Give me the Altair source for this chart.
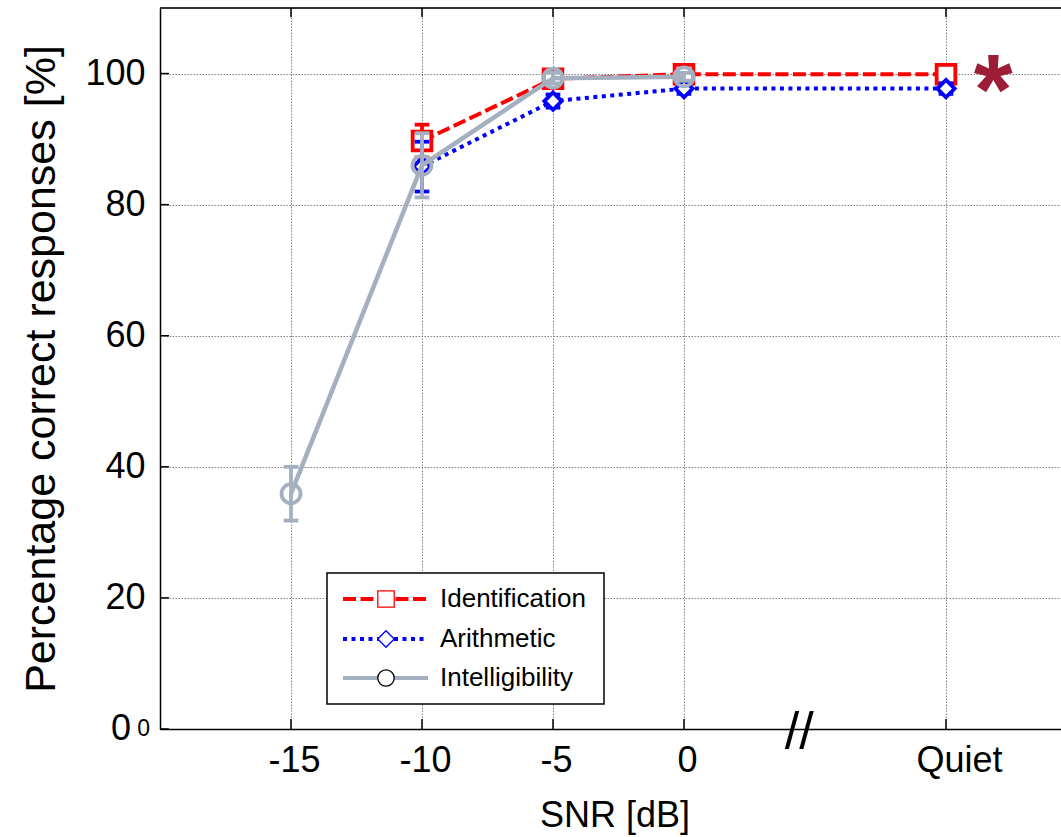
import altair as alt
import pandas as pd

# SNR positions in dB; the "Quiet" condition sits at 10 on the axis
snr_ticks = [-15, -10, -5, 0, 10]
pct_ticks = [0, 20, 40, 60, 80, 100]
quiet_at = 10

# Identification task
ident_snr = [-10, -5, 0, 10]
ident_pct = [89.7, 99.2, 99.9, 99.9]
ident_sd = [2.5, 0.6, 0.3, 0.3]

# Arithmetic task
arith_snr = [-10, -5, 0, 10]
arith_pct = [85.8, 95.8, 97.7, 97.7]
arith_sd = [3.8, 1.0, 0.8, 0.8]

# Intelligibility
intel_snr = [-15, -10, -5, 0]
intel_pct = [35.9, 86.0, 99.3, 99.5]
intel_sd = [4.1, 4.9, 0.8, 0.6]

# significance marker next to the Quiet condition
star_snr = [11.8]
star_pct = [92.3]

# axis-break position
break_snr = [4.4]

W, H = 901, 721
FONT = "Liberation Sans"
RED, BLUE, GRAY = "#ff0000", "#0000ff", "#a4b0c0"

xs = alt.Scale(domain=[-20, 14.39], nice=False, zero=False)
ys = alt.Scale(domain=[0, 110], nice=False, zero=False)

x_axis = alt.Axis(
    values=snr_ticks, grid=True, ticks=False, domain=True,
    labelExpr=f"datum.value == {quiet_at} ? 'Quiet' : '' + datum.value",
    labelOffset={"condition": {"test": f"datum.value == {quiet_at}", "value": 13}, "value": 3},
    labelFontSize=36, labelPadding=14, labelColor="black", labelFont=FONT,
    title="SNR [dB]", titleFontSize=36, titleFontWeight="normal",
    titleColor="black", titleFont=FONT, titlePadding=20, titleX=W / 2 + 4,
)
y_axis = alt.Axis(
    values=pct_ticks, grid=True, ticks=False, domain=True,
    labelExpr="datum.value == 0 ? '' : '' + datum.value",
    labelFontSize=36, labelPadding=15, labelColor="black", labelFont=FONT,
    title="Percentage correct responses [%]", titleFontSize=43,
    titleFontWeight="normal", titleColor="black", titleFont=FONT, titlePadding=21,
)


def X(field):
    return alt.X(field, type="quantitative", scale=xs, axis=x_axis)


def Y(field):
    return alt.Y(field, type="quantitative", scale=ys, axis=y_axis)


def series(snr, pct, sd, color, dash, shape, size, fill, lw):
    df = pd.DataFrame({"snr": snr, "pct": pct, "sd": sd})
    base = alt.Chart(df).transform_calculate(
        lo="datum.pct - datum.sd", hi="datum.pct + datum.sd",
        xl="datum.snr - 0.28", xr="datum.snr + 0.28",
    )
    line_kw = dict(color=color, strokeWidth=lw, strokeCap="butt")
    if dash:
        line_kw["strokeDash"] = dash
    line = base.mark_line(**line_kw).encode(x=X("snr"), y=Y("pct"))
    bar = base.mark_rule(color=color, strokeWidth=3.8).encode(
        x=X("snr"), y=Y("lo"), y2="hi")
    cap_lo = base.mark_rule(color=color, strokeWidth=3.8).encode(
        x=X("xl"), x2="xr", y=Y("lo"))
    cap_hi = base.mark_rule(color=color, strokeWidth=3.8).encode(
        x=X("xl"), x2="xr", y=Y("hi"))
    if fill:
        pts = base.mark_point(shape=shape, size=size, filled=True, fill="white",
                              fillOpacity=1, stroke=color, strokeWidth=3.8, opacity=1)
    else:
        pts = base.mark_point(shape=shape, size=size, filled=False,
                              stroke=color, strokeWidth=3.8, opacity=1)
    pts = pts.encode(x=X("snr"), y=Y("pct"))
    return [line, bar, cap_lo, cap_hi, pts]


one = pd.DataFrame({"k": [0]})

# top frame line
frame_top = alt.Chart(one).mark_rule(color="#333333", strokeWidth=2).encode(
    x=alt.value(0), x2=alt.value(W), y=alt.value(0))

# inward tick marks on bottom, top and left edges
xt = pd.DataFrame({"snr": snr_ticks})
yt = pd.DataFrame({"pct": pct_ticks})
ticks_bottom = alt.Chart(xt).mark_rule(color="black", strokeWidth=1.5).encode(
    x=X("snr"), y=alt.value(H), y2=alt.value(H - 10))
ticks_top = alt.Chart(xt).mark_rule(color="black", strokeWidth=1.5).encode(
    x=X("snr"), y=alt.value(0), y2=alt.value(9))
ticks_left = alt.Chart(yt).mark_rule(color="black", strokeWidth=1.5).encode(
    y=Y("pct"), x=alt.value(0), x2=alt.value(9))

layers = [frame_top, ticks_bottom, ticks_top, ticks_left]
layers += series(ident_snr, ident_pct, ident_sd, RED, [13, 4.5], "square", 350, True, 4)
layers += series(arith_snr, arith_pct, arith_sd, BLUE, [4, 4.5], "diamond", 300, True, 4)
layers += series(intel_snr, intel_pct, intel_sd, GRAY, None, "circle", 360, False, 4.5)

star = alt.Chart(pd.DataFrame({"snr": star_snr, "pct": star_pct})).mark_text(
    text="*", font=FONT, fontSize=100, fontWeight="bold", color="#9b1d36",
    align="center", baseline="alphabetic",
).encode(x=X("snr"), y=Y("pct"))

brk = alt.Chart(pd.DataFrame({"snr": break_snr})).mark_text(
    text="//", font=FONT, fontSize=52, color="black", align="center",
    baseline="alphabetic",
).encode(x=X("snr"), y=alt.value(H + 20))

zero_big = alt.Chart(one).mark_text(
    text="0", font=FONT, fontSize=36, color="black", align="right", baseline="middle"
).encode(x=alt.value(-29), y=alt.value(H))
zero_small = alt.Chart(one).mark_text(
    text="0", font=FONT, fontSize=23, color="black", align="right", baseline="middle"
).encode(x=alt.value(-10), y=alt.value(H))

layers += [star, brk, zero_big, zero_small]

# legend box
legend_box = alt.Chart(one).mark_rect(fill="white", stroke="black", strokeWidth=1.5).encode(
    x=alt.value(167), x2=alt.value(444), y=alt.value(565), y2=alt.value(696))
layers.append(legend_box)

legend_rows = [
    ("Identification", RED, [13, 4.5], "square"),
    ("Arithmetic", BLUE, [4, 4.5], "diamond"),
    ("Intelligibility", GRAY, None, "circle"),
]
row_y = [591, 631, 670]
for (label, color, dash, shape), ry in zip(legend_rows, row_y):
    kw = dict(color=color, strokeWidth=4, strokeCap="butt")
    if dash:
        kw["strokeDash"] = dash
    layers.append(alt.Chart(one).mark_rule(**kw).encode(
        x=alt.value(183), x2=alt.value(266 if dash else 268), y=alt.value(ry)))
    sym_stroke = "black" if shape == "circle" else color
    layers.append(alt.Chart(one).mark_point(
        shape=shape, size=270, filled=True, fill="white", fillOpacity=1,
        stroke=sym_stroke, strokeWidth=1.3, opacity=1,
    ).encode(x=alt.value(226), y=alt.value(ry)))
    layers.append(alt.Chart(one).mark_text(
        text=label, font=FONT, fontSize=26, color="black", align="left",
        baseline="middle",
    ).encode(x=alt.value(280), y=alt.value(ry)))

chart = alt.layer(*layers).properties(
    width=W, height=H,
    autosize=alt.AutoSizeParams(type="none"),
    padding={"left": 160, "top": 8, "right": 0, "bottom": 108},
    background="white",
).configure_view(stroke=None).configure_axis(
    gridColor="#808080", gridDash=[1.5, 1.5], gridWidth=1, gridOpacity=1,
    domainColor="black", domainWidth=1.5,
)

chart.save("out.html", embed_options={"renderer": "svg", "actions": False})
